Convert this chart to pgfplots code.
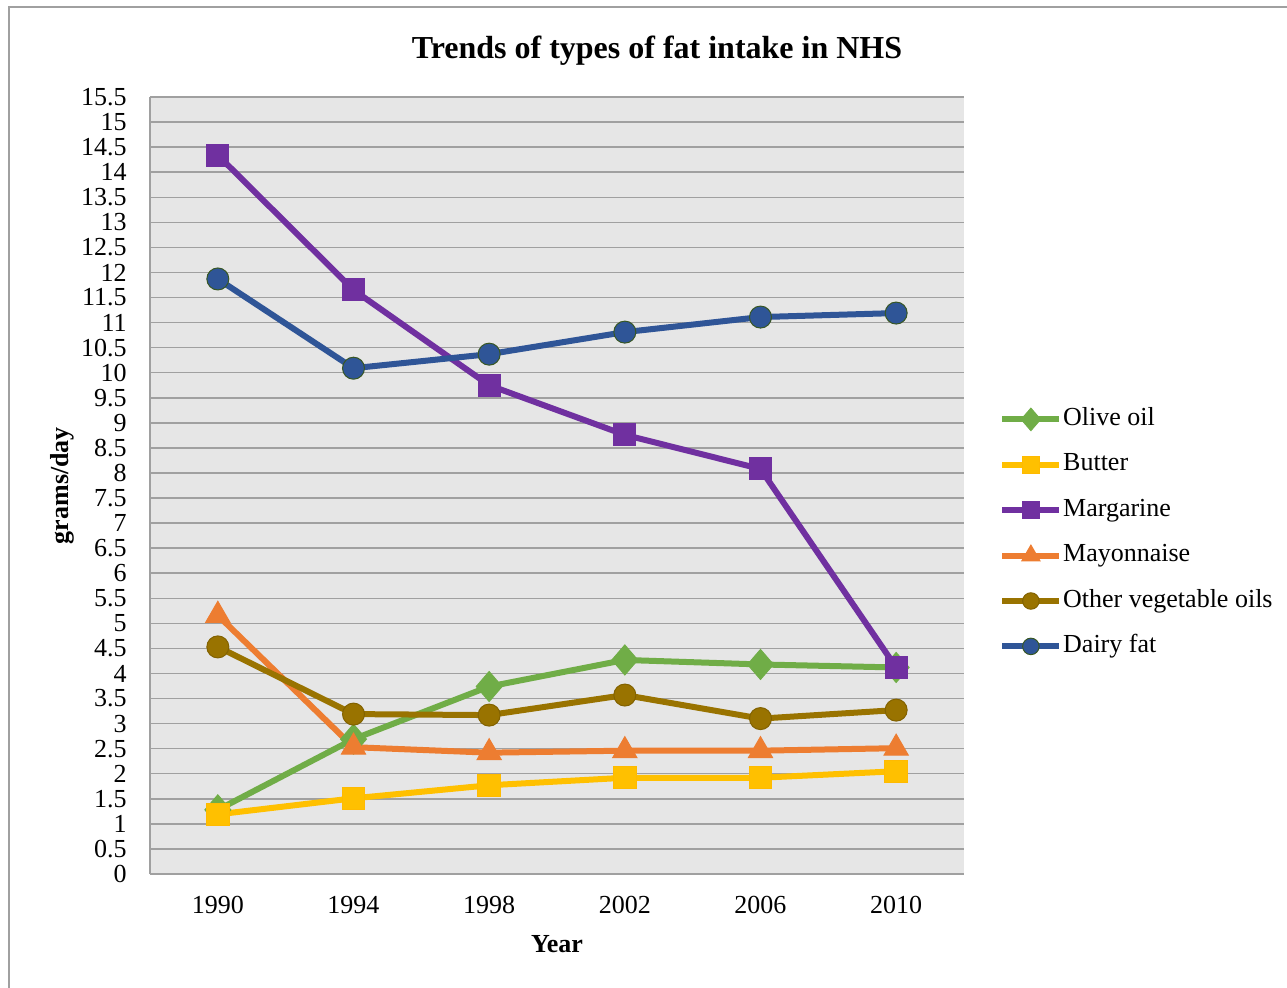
\documentclass[border=0pt]{standalone}
\usepackage{pgfplots}
\pgfplotsset{compat=1.18}
\usepackage{fontspec}
\setmainfont{Liberation Serif}
\definecolor{cOlive}{HTML}{70AD47}
\definecolor{cButter}{HTML}{FFC000}
\definecolor{cMarg}{HTML}{7030A0}
\definecolor{cMayo}{HTML}{ED7D31}
\definecolor{cVeg}{HTML}{997300}
\definecolor{cDairy}{HTML}{2F5597}
\definecolor{cGrid}{RGB}{160,160,160}
\definecolor{cBack}{RGB}{230,230,230}
\begin{document}
\begin{tikzpicture}
\useasboundingbox (-75pt,-56.5pt) rectangle (568.5pt,437pt);
\draw[cGrid, line width=0.6pt] (-70.5pt,-60pt) -- (-70.5pt,433.5pt) -- (575pt,433.5pt);
\begin{axis}[
  at={(0,0)}, anchor=south west,
  scale only axis, width=407pt, height=388.5pt,
  xmin=-0.5, xmax=5.5, ymin=0, ymax=15.5,
  xtick={0,1,2,3,4,5},
  xticklabels={1990,1994,1998,2002,2006,2010},
  ytick distance=0.5,
  ymajorgrids,
  grid style={line width=0.75pt, cGrid},
  axis background/.style={fill=cBack},
  axis x line*=bottom, axis y line*=left,
  axis line style={cGrid, line width=0.75pt, -},
  major tick length=0pt,
  /pgf/number format/assume math mode=true,
  tick label style={font=\fontsize{13}{15}\selectfont},
  yticklabel style={inner sep=0pt, anchor=east, xshift=-11.5pt},
  xticklabel style={inner sep=0pt, anchor=north, yshift=-11pt},
  xlabel={Year}, ylabel={grams/day},
  label style={font=\fontsize{13}{15}\selectfont\bfseries},
  xlabel style={at={(axis description cs:0.5,-0.0901)}, anchor=center},
  ylabel style={at={(axis description cs:-0.1081,0.5)}, anchor=center, rotate=0},
  legend cell align=left,
  legend style={at={(axis description cs:1.043,0.439)}, anchor=west, draw=none, fill=none,
    inner sep=0pt, row sep=8.7pt, font=\fontsize{13}{15}\selectfont,
    nodes={inner xsep=0.4pt, inner ysep=1pt, text height=9pt, text depth=3pt}},
  legend image code/.code={\draw[#1, mark repeat=2, mark phase=2, /tikz/every mark/.append style={scale=0.75}] plot coordinates {(0pt,0pt) (14.25pt,0pt) (28.5pt,0pt)};},
  every axis plot/.append style={line width=3pt},
]
\addplot[cOlive, mark=diamond*, mark size=7.5pt, mark options={fill=cOlive, draw=cOlive, line width=0.5pt, xscale=1.15}]
  coordinates {(0,1.28) (1,2.69) (2,3.74) (3,4.27) (4,4.18) (5,4.12)};
\addlegendentry{Olive oil}
\addplot[cButter, mark=square*, mark size=5.6pt, mark options={fill=cButter, draw=cButter!90!orange, line width=0.5pt}]
  coordinates {(0,1.19) (1,1.51) (2,1.77) (3,1.92) (4,1.92) (5,2.05)};
\addlegendentry{Butter}
\addplot[cMarg, mark=square*, mark size=5.5pt, mark options={fill=cMarg, draw=cMarg, line width=0.5pt}]
  coordinates {(0,14.34) (1,11.65) (2,9.75) (3,8.76) (4,8.08) (5,4.12)};
\addlegendentry{Margarine}
\addplot[cMayo, mark=triangle*, mark size=7pt, mark options={fill=cMayo, draw=cMayo, line width=0.5pt}]
  coordinates {(0,5.16) (1,2.53) (2,2.42) (3,2.46) (4,2.46) (5,2.51)};
\addlegendentry{Mayonnaise}
\addplot[cVeg, mark=*, mark size=5.5pt, mark options={fill=cVeg, draw=cVeg!85!black, line width=0.5pt}]
  coordinates {(0,4.53) (1,3.19) (2,3.17) (3,3.57) (4,3.10) (5,3.27)};
\addlegendentry{Other vegetable oils}
\addplot[cDairy, mark=*, mark size=5.5pt, mark options={fill=cDairy, draw=cOlive!50!black, line width=0.5pt}]
  coordinates {(0,11.87) (1,10.09) (2,10.37) (3,10.81) (4,11.11) (5,11.19)};
\addlegendentry{Dairy fat}
\end{axis}
\node[font=\fontsize{16}{19}\selectfont\bfseries] at (253.5pt,411.5pt) {Trends of types of fat intake in NHS};
\end{tikzpicture}
\end{document}
